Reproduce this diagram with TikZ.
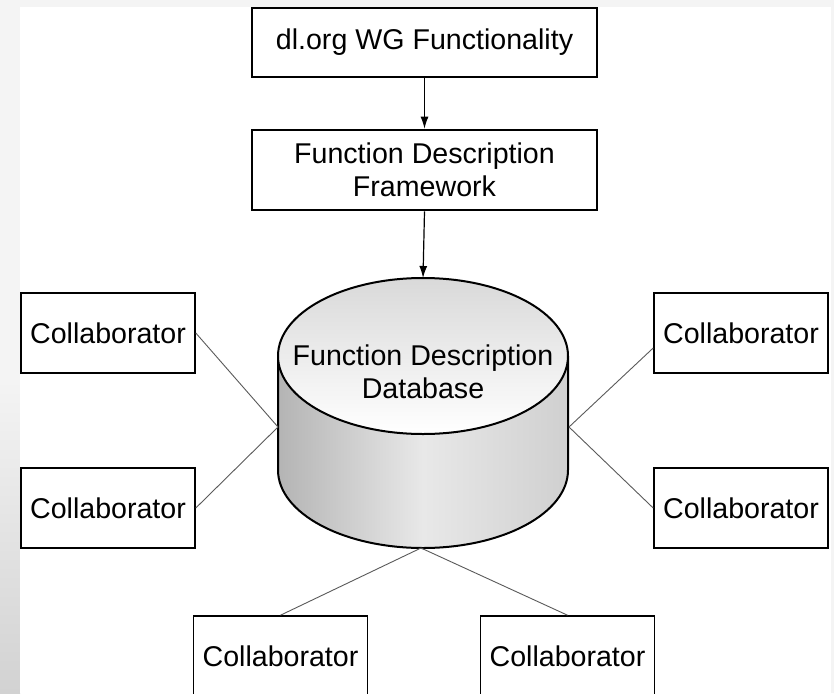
\documentclass[tikz,border=0pt]{standalone}
\usepackage{fontspec}
\setmainfont{Liberation Sans}
\usetikzlibrary{arrows.meta,calc}
\definecolor{frame}{HTML}{F4F4F4}
\definecolor{framedark}{HTML}{D2D2D2}
\definecolor{cyltop}{HTML}{D9D9D9}
\definecolor{cylleft}{HTML}{B4B4B4}
\definecolor{cylmid}{HTML}{E8E8E8}
\definecolor{cylright}{HTML}{D0D0D0}
\definecolor{linkgray}{HTML}{5A5A5A}
\tikzset{
  mainbox/.style={draw=black, line width=2.6pt, fill=white, minimum width=345pt, align=center, inner sep=0pt},
  collab/.style={draw=black, line width=1.6pt, fill=white, minimum width=174pt, minimum height=80pt, inner sep=0pt},
  link/.style={draw=linkgray, line width=0.9pt},
  flow/.style={draw=black, line width=1.2pt, -{Latex[length=12pt,width=8pt]}},
  cyl/.style={draw=black, line width=2pt}
}
\begin{document}
\begin{tikzpicture}[x=1pt,y=-1pt,font=\fontsize{28.6}{33}\selectfont]
\useasboundingbox (0,0) rectangle (834,693);
% frame
\fill[frame] (0,0) rectangle (834,693);
\shade[top color=frame,bottom color=framedark] (0,380) rectangle (20,693);
\fill[white] (20,7) rectangle (831,693);

% top boxes
\node[mainbox, minimum height=69pt] (wg) at (424.5,42.5) {dl.org WG Functionality};
\node[mainbox, minimum height=80pt] (fdf) at (424.5,170) {Function Description\\Framework};

% cylinder
\path[shading=axis, left color=cylleft, right color=cylright, middle color=cylmid]
  (278,356) -- (278,470) arc[start angle=180, end angle=0, x radius=145, y radius=78] -- (568,356) -- cycle;
\draw[cyl] (278,356) -- (278,470) arc[start angle=180, end angle=0, x radius=145, y radius=78] -- (568,356);
\path[top color=cyltop, bottom color=white] (423,356) ellipse[x radius=145, y radius=78];
\draw[cyl] (423,356) ellipse[x radius=145, y radius=78];
\node[align=center, inner sep=0pt] (db) at (423,372) {Function Description\\Database};
\coordinate (dbT) at (423,278);
\coordinate (dbL) at (278,427);
\coordinate (dbR) at (569,427);
\coordinate (dbB) at (421,548);

% collaborators
\node[collab] (lt) at (108,333) {Collaborator};
\node[collab] (lb) at (108,508) {Collaborator};
\node[collab] (rt) at (741,333) {Collaborator};
\node[collab] (rb) at (741,508) {Collaborator};
\node[collab] (bl) at (280.5,656) {Collaborator};
\node[collab] (br) at (567.5,656) {Collaborator};

% arrows
\draw[flow] (wg.south) -- (fdf.north);
\draw[flow] (fdf.south) -- (dbT);

% links
\draw[link] (lt.east) -- (dbL);
\draw[link] (lb.east) -- (dbL);
\draw[link] ($(rt.west)+(0,15)$) -- (dbR);
\draw[link] (rb.west) -- (dbR);
\draw[link] (bl.north) -- (dbB);
\draw[link] (br.north) -- (dbB);
\end{tikzpicture}
\end{document}
